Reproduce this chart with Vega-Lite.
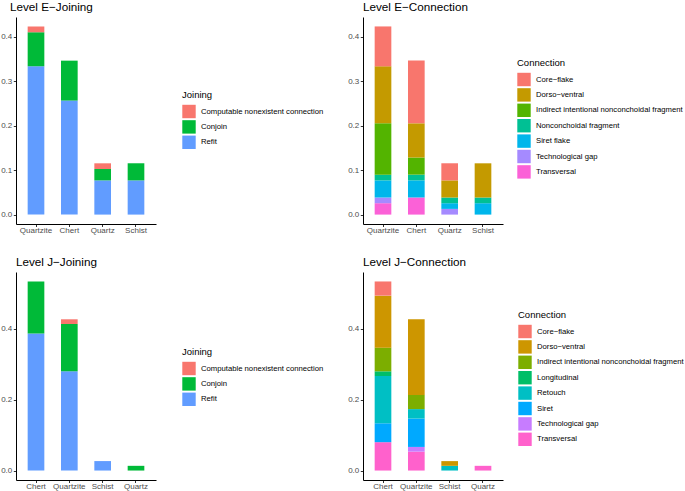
{
  "$schema": "https://vega.github.io/schema/vega-lite/v6.json",
  "padding": {"left": 0, "top": 2, "right": 0, "bottom": 0},
  "background": "white",
  "datasets": {
    "ej": [
      {"material": "Quartzite", "cat": "Refit", "value": 0.3333},
      {"material": "Quartzite", "cat": "Conjoin", "value": 0.0769},
      {"material": "Quartzite", "cat": "Computable nonexistent connection", "value": 0.0128},
      {"material": "Chert", "cat": "Refit", "value": 0.2564},
      {"material": "Chert", "cat": "Conjoin", "value": 0.0897},
      {"material": "Quartz", "cat": "Refit", "value": 0.0769},
      {"material": "Quartz", "cat": "Conjoin", "value": 0.0256},
      {"material": "Quartz", "cat": "Computable nonexistent connection", "value": 0.0128},
      {"material": "Schist", "cat": "Refit", "value": 0.0769},
      {"material": "Schist", "cat": "Conjoin", "value": 0.0385}
    ],
    "ec": [
      {"material": "Quartzite", "cat": "Transversal", "value": 0.0256},
      {"material": "Quartzite", "cat": "Technological gap", "value": 0.0128},
      {"material": "Quartzite", "cat": "Siret flake", "value": 0.0385},
      {"material": "Quartzite", "cat": "Nonconchoidal fragment", "value": 0.0128},
      {"material": "Quartzite", "cat": "Indirect intentional nonconchoidal fragment", "value": 0.1154},
      {"material": "Quartzite", "cat": "Dorso−ventral", "value": 0.1282},
      {"material": "Quartzite", "cat": "Core−flake", "value": 0.0897},
      {"material": "Chert", "cat": "Transversal", "value": 0.0385},
      {"material": "Chert", "cat": "Siret flake", "value": 0.0385},
      {"material": "Chert", "cat": "Nonconchoidal fragment", "value": 0.0128},
      {"material": "Chert", "cat": "Indirect intentional nonconchoidal fragment", "value": 0.0385},
      {"material": "Chert", "cat": "Dorso−ventral", "value": 0.0769},
      {"material": "Chert", "cat": "Core−flake", "value": 0.1410},
      {"material": "Quartz", "cat": "Technological gap", "value": 0.0128},
      {"material": "Quartz", "cat": "Siret flake", "value": 0.0128},
      {"material": "Quartz", "cat": "Nonconchoidal fragment", "value": 0.0128},
      {"material": "Quartz", "cat": "Dorso−ventral", "value": 0.0385},
      {"material": "Quartz", "cat": "Core−flake", "value": 0.0385},
      {"material": "Schist", "cat": "Siret flake", "value": 0.0256},
      {"material": "Schist", "cat": "Nonconchoidal fragment", "value": 0.0128},
      {"material": "Schist", "cat": "Dorso−ventral", "value": 0.0769}
    ],
    "jj": [
      {"material": "Chert", "cat": "Refit", "value": 0.3867},
      {"material": "Chert", "cat": "Conjoin", "value": 0.1467},
      {"material": "Quartzite", "cat": "Refit", "value": 0.28},
      {"material": "Quartzite", "cat": "Conjoin", "value": 0.1333},
      {"material": "Quartzite", "cat": "Computable nonexistent connection", "value": 0.0133},
      {"material": "Schist", "cat": "Refit", "value": 0.0267},
      {"material": "Quartz", "cat": "Conjoin", "value": 0.0133}
    ],
    "jc": [
      {"material": "Chert", "cat": "Transversal", "value": 0.08},
      {"material": "Chert", "cat": "Siret", "value": 0.0533},
      {"material": "Chert", "cat": "Retouch", "value": 0.1333},
      {"material": "Chert", "cat": "Longitudinal", "value": 0.0133},
      {"material": "Chert", "cat": "Indirect intentional nonconchoidal fragment", "value": 0.0667},
      {"material": "Chert", "cat": "Dorso−ventral", "value": 0.1467},
      {"material": "Chert", "cat": "Core−flake", "value": 0.04},
      {"material": "Quartzite", "cat": "Transversal", "value": 0.0533},
      {"material": "Quartzite", "cat": "Technological gap", "value": 0.0133},
      {"material": "Quartzite", "cat": "Siret", "value": 0.08},
      {"material": "Quartzite", "cat": "Retouch", "value": 0.0267},
      {"material": "Quartzite", "cat": "Indirect intentional nonconchoidal fragment", "value": 0.04},
      {"material": "Quartzite", "cat": "Dorso−ventral", "value": 0.2133},
      {"material": "Schist", "cat": "Retouch", "value": 0.0133},
      {"material": "Schist", "cat": "Dorso−ventral", "value": 0.0133},
      {"material": "Quartz", "cat": "Transversal", "value": 0.0133}
    ]
  },
  "concat": [
    {
      "title": {"text": "Level E−Joining", "dx": -6},
      "width": 140, "height": 207,
      "data": {"name": "ej"},
      "mark": {"type": "bar", "opacity": 1},
      "encoding": {
        "x": {"field": "material", "type": "nominal", "sort": ["Quartzite", "Chert", "Quartz", "Schist"], "scale": {"paddingInner": 0.5, "paddingOuter": 0.35}, "axis": {"labelAngle": 0}},
        "y": {"field": "value", "type": "quantitative", "stack": "zero", "scale": {"domain": [-0.02115, 0.44423], "nice": false, "zero": false}, "axis": {"values": [0, 0.1, 0.2, 0.3, 0.4], "format": ".1f"}},
        "color": {"field": "cat", "type": "nominal", "scale": {"domain": ["Computable nonexistent connection", "Conjoin", "Refit"], "range": ["#F8766D", "#00BA38", "#619CFF"]}, "legend": {"title": "Joining", "orient": "none", "legendX": 166, "legendY": 73}},
        "order": {"field": "cat", "type": "ordinal", "sort": "descending"}
      }
    },
    {
      "title": {"text": "Level E−Connection", "dx": 0},
      "width": 140, "height": 207,
      "data": {"name": "ec"},
      "mark": {"type": "bar", "opacity": 1},
      "encoding": {
        "x": {"field": "material", "type": "nominal", "sort": ["Quartzite", "Chert", "Quartz", "Schist"], "scale": {"paddingInner": 0.5, "paddingOuter": 0.35}, "axis": {"labelAngle": 0}},
        "y": {"field": "value", "type": "quantitative", "stack": "zero", "scale": {"domain": [-0.02115, 0.44423], "nice": false, "zero": false}, "axis": {"values": [0, 0.1, 0.2, 0.3, 0.4], "format": ".1f"}},
        "color": {"field": "cat", "type": "nominal", "scale": {"domain": ["Core−flake", "Dorso−ventral", "Indirect intentional nonconchoidal fragment", "Nonconchoidal fragment", "Siret flake", "Technological gap", "Transversal"], "range": ["#F8766D", "#C49A00", "#53B400", "#00C094", "#00B6EB", "#A58AFF", "#FB61D7"]}, "legend": {"title": "Connection", "orient": "none", "legendX": 154, "legendY": 41}},
        "order": {"field": "cat", "type": "ordinal", "sort": "descending"}
      }
    },
    {
      "title": {"text": "Level J−Joining", "dx": 0},
      "width": 140, "height": 208,
      "data": {"name": "jj"},
      "mark": {"type": "bar", "opacity": 1},
      "encoding": {
        "x": {"field": "material", "type": "nominal", "sort": ["Chert", "Quartzite", "Schist", "Quartz"], "scale": {"paddingInner": 0.5, "paddingOuter": 0.35}, "axis": {"labelAngle": 0}},
        "y": {"field": "value", "type": "quantitative", "stack": "zero", "scale": {"domain": [-0.02667, 0.56], "nice": false, "zero": false}, "axis": {"values": [0, 0.2, 0.4], "format": ".1f"}},
        "color": {"field": "cat", "type": "nominal", "scale": {"domain": ["Computable nonexistent connection", "Conjoin", "Refit"], "range": ["#F8766D", "#00BA38", "#619CFF"]}, "legend": {"title": "Joining", "orient": "none", "legendX": 166, "legendY": 75}},
        "order": {"field": "cat", "type": "ordinal", "sort": "descending"}
      }
    },
    {
      "title": {"text": "Level J−Connection", "dx": 0},
      "width": 140, "height": 208,
      "data": {"name": "jc"},
      "mark": {"type": "bar", "opacity": 1},
      "encoding": {
        "x": {"field": "material", "type": "nominal", "sort": ["Chert", "Quartzite", "Schist", "Quartz"], "scale": {"paddingInner": 0.5, "paddingOuter": 0.35}, "axis": {"labelAngle": 0}},
        "y": {"field": "value", "type": "quantitative", "stack": "zero", "scale": {"domain": [-0.02667, 0.56], "nice": false, "zero": false}, "axis": {"values": [0, 0.2, 0.4], "format": ".1f"}},
        "color": {"field": "cat", "type": "nominal", "scale": {"domain": ["Core−flake", "Dorso−ventral", "Indirect intentional nonconchoidal fragment", "Longitudinal", "Retouch", "Siret", "Technological gap", "Transversal"], "range": ["#F8766D", "#CD9600", "#7CAE00", "#00BE67", "#00BFC4", "#00A9FF", "#C77CFF", "#FF61CC"]}, "legend": {"title": "Connection", "orient": "none", "legendX": 155, "legendY": 38}},
        "order": {"field": "cat", "type": "ordinal", "sort": "descending"}
      }
    }
  ],
  "columns": 2,
  "spacing": {"row": 48, "column": 207},
  "bounds": "flush",
  "resolve": {
    "scale": {"color": "independent", "x": "independent", "y": "independent"},
    "legend": {"color": "independent"},
    "axis": {"x": "independent", "y": "independent"}
  },
  "config": {
    "view": {"stroke": null},
    "font": "Liberation Sans",
    "title": {"anchor": "start", "frame": "group", "fontSize": 11.7, "fontWeight": "normal", "color": "black", "font": "Liberation Sans", "offset": 3},
    "axis": {
      "title": null,
      "grid": false,
      "domainColor": "black",
      "domainWidth": 1,
      "tickColor": "#333333",
      "tickSize": 2.7,
      "labelColor": "#4D4D4D",
      "labelFontSize": 8,
      "labelFont": "Liberation Sans",
      "labelPadding": 1.5
    },
    "axisX": {"labelPadding": 0, "tickSize": 2.5},
    "legend": {
      "symbolType": "square",
      "symbolSize": 180,
      "symbolStrokeWidth": 0,
      "symbolOpacity": 1,
      "labelFontSize": 7.7,
      "titleFontSize": 9.5,
      "labelFont": "Liberation Sans",
      "titleFont": "Liberation Sans",
      "titleFontWeight": "normal",
      "titleColor": "black",
      "labelColor": "black",
      "rowPadding": 1.4,
      "labelOffset": 5,
      "titlePadding": 5,
      "labelLimit": 300
    }
  }
}
